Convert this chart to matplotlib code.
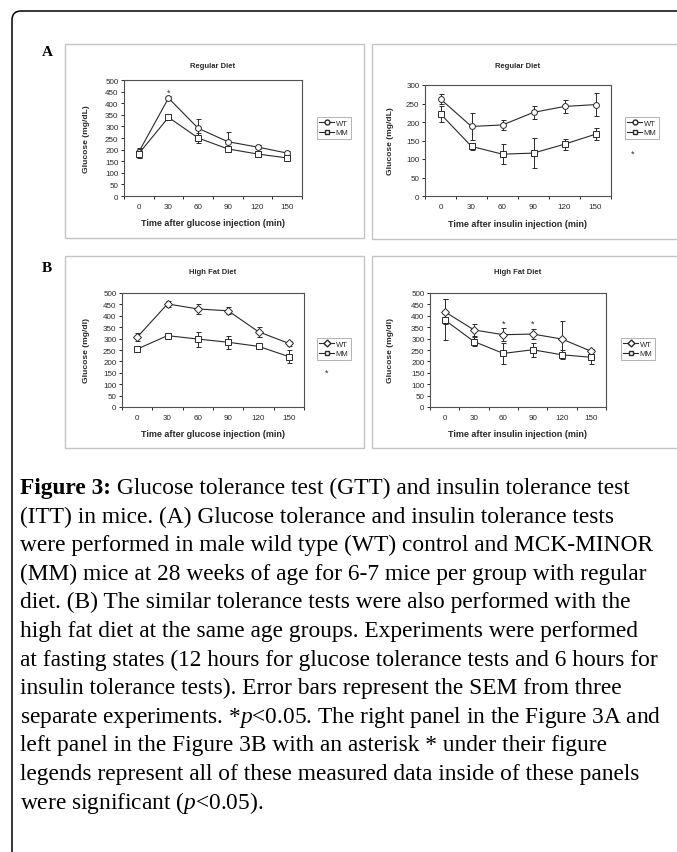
import numpy as np
import matplotlib.pyplot as plt
from matplotlib.patches import Rectangle, FancyBboxPatch
from matplotlib.lines import Line2D
from matplotlib.transforms import IdentityTransform

plt.rcParams["font.family"] = ["Liberation Sans", "DejaVu Sans"]
plt.rcParams["mathtext.fontset"] = "custom"
plt.rcParams["mathtext.rm"] = "Liberation Serif"
plt.rcParams["mathtext.it"] = "Liberation Serif:italic"

W, H, DPI = 677, 853, 100

times = [0, 30, 60, 90, 120, 150]

# A: regular diet
gtt_reg_wt = [190, 422, 292, 234, 211, 185]
gtt_reg_wt_err = [15, 10, 42, 40, 10, 8]
gtt_reg_mm = [183, 339, 250, 203, 181, 164]
gtt_reg_mm_err = [20, 8, 20, 8, 8, 6]

itt_reg_wt = [262, 188, 192, 226, 242, 247]
itt_reg_wt_err = [14, 36, 14, 18, 18, 32]
itt_reg_mm = [222, 134, 113, 116, 140, 167]
itt_reg_mm_err = [22, 10, 27, 40, 15, 16]

# B: high fat diet
gtt_hfd_wt = [306, 452, 430, 422, 330, 279]
gtt_hfd_wt_err = [18, 12, 20, 15, 22, 10]
gtt_hfd_mm = [254, 313, 298, 284, 266, 221]
gtt_hfd_mm_err = [5, 10, 33, 28, 5, 27]

itt_hfd_wt = [418, 338, 317, 320, 298, 244]
itt_hfd_wt_err = [55, 28, 28, 22, 80, 12]
itt_hfd_mm = [382, 287, 235, 251, 229, 218]
itt_hfd_mm_err = [90, 18, 47, 30, 20, 30]

caption_lines = [
    " Glucose tolerance test (GTT) and insulin tolerance test",
    "(ITT) in mice. (A) Glucose tolerance and insulin tolerance tests",
    "were performed in male wild type (WT) control and MCK-MINOR",
    "(MM) mice at 28 weeks of age for 6-7 mice per group with regular",
    "diet. (B) The similar tolerance tests were also performed with the",
    "high fat diet at the same age groups. Experiments were performed",
    "at fasting states (12 hours for glucose tolerance tests and 6 hours for",
    "insulin tolerance tests). Error bars represent the SEM from three",
    "separate experiments. *$p$<0.05. The right panel in the Figure 3A and",
    "left panel in the Figure 3B with an asterisk * under their figure",
    "legends represent all of these measured data inside of these panels",
    "were significant ($p$<0.05).",
]

INK = "#2a2a2a"
FS = 5.5


def fx(x):
    return x / W


def fy(y):
    return 1 - y / H


def panel(fig, plot_px, box_px, title, title_y, ylabel, ylabel_x, xlabel, xlabel_y,
          ymax, wt, wt_err, mm, mm_err, wt_marker, legend_px, star_px=None, sig=None):
    bx0, by0, bx1, by1 = box_px
    fig.add_artist(Rectangle((fx(bx0), fy(by1)), fx(bx1 - bx0), (by1 - by0) / H,
                             transform=fig.transFigure, fill=False,
                             edgecolor="#c4c4c4", lw=1.0))
    x0, y0, x1, y1 = plot_px
    ax = fig.add_axes([fx(x0), fy(y1), fx(x1 - x0), (y1 - y0) / H])
    pos = np.arange(len(times))
    kw = dict(color=INK, mfc="white", mec=INK, ms=4.2, lw=0.8, mew=0.7,
              capsize=1.8, elinewidth=0.7, capthick=0.7)
    ax.errorbar(pos, wt, yerr=wt_err, marker=wt_marker, **kw)
    ax.errorbar(pos, mm, yerr=mm_err, marker="s", **kw)
    if sig:
        for p, v in sig:
            ax.text(p, v, "*", ha="center", va="center", fontsize=6.5, color=INK)
    ax.set_xlim(-0.5, len(times) - 0.5)
    ax.set_ylim(0, ymax)
    ax.set_yticks(np.arange(0, ymax + 1, 50))
    ax.set_xticks(pos)
    ax.set_xticklabels([str(t) for t in times])
    ax.set_xticks(np.arange(-0.5, len(times), 1.0), minor=True)
    ax.tick_params(axis="x", which="major", length=0, labelsize=FS + 0.3, pad=5, colors=INK)
    ax.tick_params(axis="x", which="minor", length=2.5, width=0.7, direction="out", color=INK)
    ax.tick_params(axis="y", length=2.5, width=0.7, labelsize=FS + 0.3, pad=1.5, colors=INK)
    for s in ax.spines.values():
        s.set_color("#505050")
        s.set_linewidth(0.8)
    cx = (x0 + x1) / 2
    fig.text(fx(cx), fy(title_y), title, ha="center", va="center",
             fontsize=FS, fontweight="bold", color=INK)
    fig.text(fx(cx), fy(xlabel_y), xlabel, ha="center", va="center",
             fontsize=FS + 1.0, fontweight="bold", color=INK)
    fig.text(fx(ylabel_x), fy((y0 + y1) / 2), ylabel, ha="center", va="center",
             rotation=90, fontsize=FS + 0.6, fontweight="bold", color=INK)
    handles = [
        Line2D([], [], color=INK, marker=wt_marker, mfc="white", mec=INK, ms=3.5, lw=0.8),
        Line2D([], [], color=INK, marker="s", mfc="white", mec=INK, ms=3.5, lw=0.8),
    ]
    lx, ly = legend_px
    leg = ax.legend(handles, ["WT", "MM"], loc="center",
                    bbox_to_anchor=(fx(lx), fy(ly)), bbox_transform=fig.transFigure,
                    fontsize=FS, frameon=True, fancybox=False, borderpad=0.35,
                    handlelength=1.9, handletextpad=0.25, labelspacing=0.25,
                    borderaxespad=0)
    leg.get_frame().set_edgecolor("#a0a0a0")
    leg.get_frame().set_linewidth(0.7)
    for t in leg.get_texts():
        t.set_color(INK)
    if star_px:
        fig.text(fx(star_px[0]), fy(star_px[1]), "*", ha="center", va="center",
                 fontsize=6.5, color=INK)
    return ax


fig = plt.figure(figsize=(W / DPI, H / DPI), dpi=DPI)

# outer rounded frame (cut off at right and bottom)
fig.add_artist(FancyBboxPatch((12, -40), 740, H - 12 + 40,
                              boxstyle="round,pad=0,rounding_size=9",
                              transform=IdentityTransform(), fill=False,
                              edgecolor="black", lw=1.1))

fig.text(fx(47), fy(52), "A", fontsize=11, fontweight="bold",
         family="Liberation Serif", ha="center", va="center")
fig.text(fx(47), fy(268), "B", fontsize=11, fontweight="bold",
         family="Liberation Serif", ha="center", va="center")

panel(fig, (124, 81, 302, 197), (65, 45, 364, 239), "Regular Diet", 67,
      "Glucose (mg/dL)", 87, "Time after glucose injection (min)", 224,
      500, gtt_reg_wt, gtt_reg_wt_err, gtt_reg_mm, gtt_reg_mm_err, "o",
      (334, 129), sig=[(1, 448)])
panel(fig, (425, 86, 611, 197), (372, 45, 690, 240), "Regular Diet", 67,
      "Glucose (mg/dL)", 391, "Time after insulin injection (min)", 225,
      300, itt_reg_wt, itt_reg_wt_err, itt_reg_mm, itt_reg_mm_err, "o",
      (642, 129), star_px=(633, 154))
panel(fig, (122, 294, 304, 408), (65, 257, 364, 449), "High Fat Diet", 272,
      "Glucose (mg/dl)", 86, "Time after glucose injection (min)", 435,
      500, gtt_hfd_wt, gtt_hfd_wt_err, gtt_hfd_mm, gtt_hfd_mm_err, "D",
      (334, 350), star_px=(327, 373))
panel(fig, (430, 294, 606, 408), (372, 257, 690, 449), "High Fat Diet", 272,
      "Glucose (mg/dl)", 391, "Time after insulin injection (min)", 435,
      500, itt_hfd_wt, itt_hfd_wt_err, itt_hfd_mm, itt_hfd_mm_err, "D",
      (638, 350), sig=[(2, 368), (3, 368)])

# caption
cap_fs = 16.8
top = 494
step = 28.6
t0 = fig.text(fx(20), fy(top), "Figure 3:", fontsize=cap_fs, fontweight="bold",
              family="Liberation Serif", ha="left", va="baseline")
ax_ann = fig.axes[0]
ax_ann.annotate(caption_lines[0], xy=(1, 0), xycoords=t0, fontsize=cap_fs,
                family="Liberation Serif", ha="left", va="bottom",
                annotation_clip=False)
for i, line in enumerate(caption_lines[1:], start=1):
    fig.text(fx(20), fy(top + i * step), line, fontsize=cap_fs,
             family="Liberation Serif", ha="left", va="baseline")

fig.savefig("out.png", dpi=DPI)
